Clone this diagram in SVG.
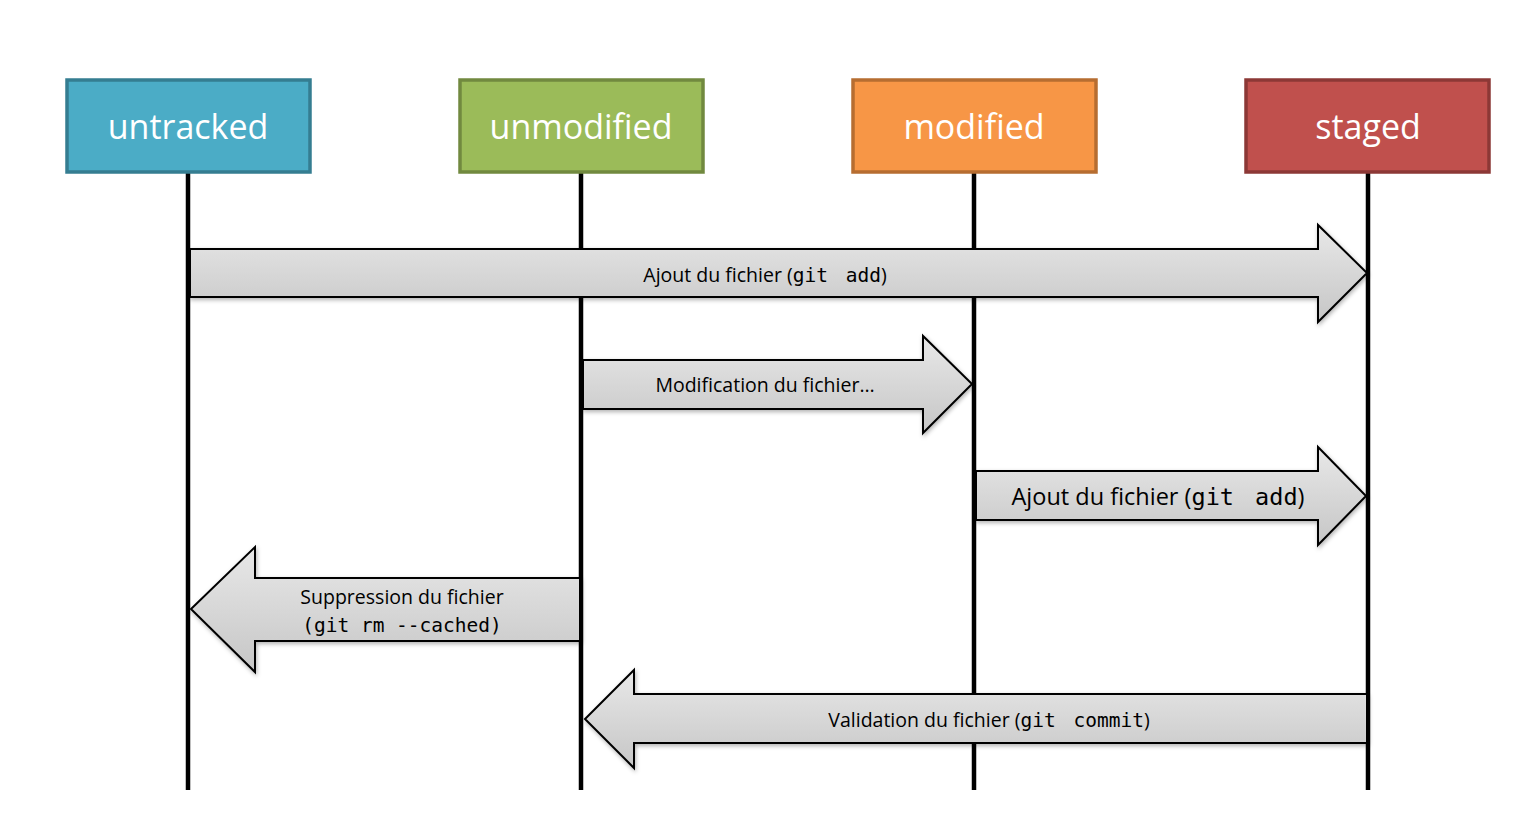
<svg xmlns="http://www.w3.org/2000/svg" width="1530" height="837" viewBox="0 0 1530 837">
<style>
.lane{stroke:#000;stroke-width:4.5;fill:none}
.box{stroke-width:3.5}
.title{font-family:"Open Sans","Liberation Sans",sans-serif;font-size:34px;fill:#fff;text-anchor:middle}
.arr{fill:url(#g);stroke:#000;stroke-width:2;filter:url(#sh)}
.lbl{font-family:"Open Sans","Liberation Sans",sans-serif;font-size:19.5px;fill:#000;text-anchor:middle}
.mono{font-family:"DejaVu Sans Mono","Liberation Mono",monospace;font-size:1em}
</style>
<defs>
<linearGradient id="g" x1="0" y1="0" x2="0" y2="1">
<stop offset="0" stop-color="#e8e8e8"/>
<stop offset="1" stop-color="#c6c6c6"/>
</linearGradient>
<filter id="sh" x="-5%" y="-20%" width="110%" height="140%">
<feDropShadow dx="1" dy="2" stdDeviation="2" flood-color="#000" flood-opacity="0.3"/>
</filter>
</defs>
<rect width="1530" height="837" fill="#fff"/>
<g id="lifelines">
<line class="lane" x1="188" y1="172" x2="188" y2="790"/>
<line class="lane" x1="581" y1="172" x2="581" y2="790"/>
<line class="lane" x1="974" y1="172" x2="974" y2="790"/>
<line class="lane" x1="1368" y1="172" x2="1368" y2="790"/>
</g>
<g id="untracked"><rect class="box" x="67" y="80" width="243" height="92" fill="#4BACC6" stroke="#357D91"/><text class="title" x="188" y="139">untracked</text></g>
<g id="unmodified"><rect class="box" x="460" y="80" width="243" height="92" fill="#9BBB59" stroke="#71893F"/><text class="title" x="581" y="139">unmodified</text></g>
<g id="modified"><rect class="box" x="853" y="80" width="243" height="92" fill="#F79646" stroke="#B66D31"/><text class="title" x="974" y="139">modified</text></g>
<g id="staged"><rect class="box" x="1246" y="80" width="243" height="92" fill="#C0504D" stroke="#8C3836"/><text class="title" x="1368" y="139">staged</text></g>
<g id="connectors">
<g id="add1">
<path class="arr" d="M190,249 H1318 V225 L1367,273 L1318,322 V297 H190 Z"/>
<text class="lbl" x="765" y="282">Ajout du fichier (<tspan class="mono">git<tspan dx="6"> add</tspan></tspan>)</text>
</g>
<g id="modif">
<path class="arr" d="M583,360 H923 V336 L972,384 L923,433 V409 H583 Z"/>
<text class="lbl" x="765" y="392">Modification du fichier…</text>
</g>
<g id="add2">
<path class="arr" d="M976,471 H1318 V447 L1366,496 L1318,545 V520 H976 Z"/>
<text class="lbl" x="1158" y="505" style="font-size:23.5px">Ajout du fichier (<tspan class="mono">git<tspan dx="7"> add</tspan></tspan>)</text>
</g>
<g id="rm">
<path class="arr" d="M580,578 H255 V547 L191,609 L255,672 V641 H580 Z"/>
<text class="lbl" x="402" y="604">Suppression du fichier</text>
<text class="lbl" x="402" y="632"><tspan class="mono">(git rm --cached)</tspan></text>
</g>
<g id="commit">
<path class="arr" d="M1367,694 H634 V670 L585,719 L634,768 V743 H1367 Z"/>
<text class="lbl" x="989" y="727">Validation du fichier (<tspan class="mono">git<tspan dx="6"> commit</tspan></tspan>)</text>
</g>
</g>
</svg>
